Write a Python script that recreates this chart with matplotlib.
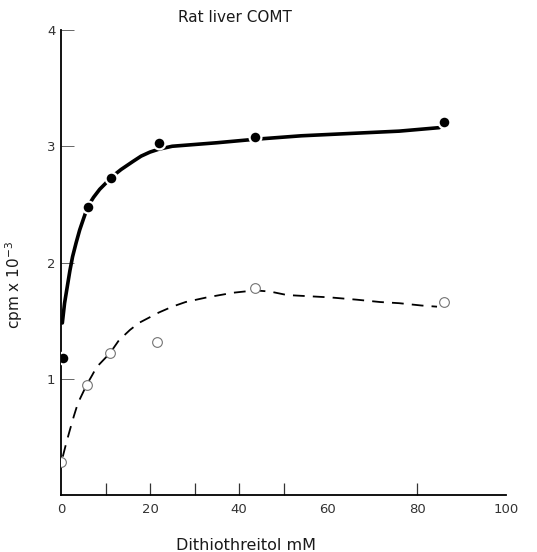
import matplotlib
matplotlib.use("Agg")
import matplotlib.pyplot as plt

# Measured data points (filled = first series, open = second series)
filled_x = [0.5, 6.0, 11.2, 22.0, 43.6, 86.0]
filled_y = [1.18, 2.48, 2.73, 3.03, 3.08, 3.21]
open_x = [0.0, 5.8, 11.0, 21.5, 43.6, 86.0]
open_y = [0.28, 0.95, 1.22, 1.32, 1.78, 1.66]

# Hand-drawn fitted curves
solid_x = [0.3, 0.8, 1.4, 2.0, 2.6, 3.4, 4.2, 5.0, 6.0, 7.3, 8.7, 10.0, 11.2, 13.5, 16.2,
           18.0, 20.0, 22.0, 25.0, 30.0, 35.0, 43.6, 54.0, 65.0, 76.0, 85.0]
solid_y = [1.48, 1.65, 1.79, 1.93, 2.05, 2.17, 2.28, 2.37, 2.48, 2.56, 2.63, 2.68, 2.73, 2.80, 2.87,
           2.915, 2.95, 2.975, 3.00, 3.015, 3.03, 3.06, 3.09, 3.11, 3.13, 3.16]
dash_x = [0.4, 1.2, 2.0, 2.9, 3.8, 4.8, 5.8, 7.0, 8.0, 9.5, 11.0, 13.0, 15.5, 17.5, 20.0, 22.0,
          25.0, 28.0, 32.8, 38.7, 43.6, 47.0, 50.8, 60.4, 66.5, 71.7, 76.0, 81.0, 84.5]
dash_y = [0.33, 0.45, 0.56, 0.68, 0.79, 0.87, 0.95, 1.03, 1.10, 1.16, 1.22, 1.33, 1.42, 1.48, 1.53, 1.57,
          1.62, 1.66, 1.70, 1.74, 1.76, 1.75, 1.72, 1.70, 1.68, 1.66, 1.65, 1.63, 1.62]

x_major = [0, 20, 40, 60, 80, 100]
x_minor = [10, 20, 30, 40, 50, 80]
y_major = [1, 2, 3, 4]

W, H = 537, 552
fig = plt.figure(figsize=(W / 100, H / 100), dpi=100)
ax = fig.add_axes([61 / W, (H - 495) / H, (506 - 61) / W, (495 - 30) / H])

ax.plot(solid_x, solid_y, color="black", lw=2.6, solid_capstyle="round",
        solid_joinstyle="round", zorder=2)
ax.plot(dash_x, dash_y, color="black", lw=1.3, dashes=(6.5, 4.5), zorder=2)
ax.plot(filled_x, filled_y, "o", ms=8.5, mfc="black", mec="white", mew=1.6, zorder=3)
ax.plot(open_x, open_y, "o", ms=7, mfc="white", mec="0.45", mew=0.8, zorder=3)

ax.set_xlim(0, 100)
ax.set_ylim(0, 4)
for s in ("top", "right"):
    ax.spines[s].set_visible(False)
for s in ("left", "bottom"):
    ax.spines[s].set_linewidth(1.3)

ax.xaxis.remove_overlapping_locs = False
ax.set_xticks(x_major)
ax.set_xticklabels([str(v) for v in x_major])
ax.set_xticks(x_minor, minor=True)
ax.set_yticks(y_major)
ax.set_yticklabels([str(v) for v in y_major])
ax.tick_params(axis="x", which="major", length=0, pad=6, labelsize=9.5, labelcolor="0.2")
ax.tick_params(axis="x", which="minor", direction="in", length=9, width=0.9, color="0.2")
ax.tick_params(axis="y", which="major", direction="in", length=9, width=0.7, pad=4,
               labelsize=9.5, labelcolor="0.2", color="0.4")

fig.text(235 / W, 1 - 18 / H, "Rat liver COMT", ha="center", va="center", fontsize=11, color="0.1")
fig.text(246 / W, 1 - 545 / H, "Dithiothreitol mM", ha="center", va="center", fontsize=11.5, color="0.1")
fig.text(14 / W, 1 - 285 / H, r"cpm x 10$^{-3}$", ha="center", va="center", rotation=90,
         fontsize=11, color="0.1")

fig.savefig("out.png", dpi=100)
